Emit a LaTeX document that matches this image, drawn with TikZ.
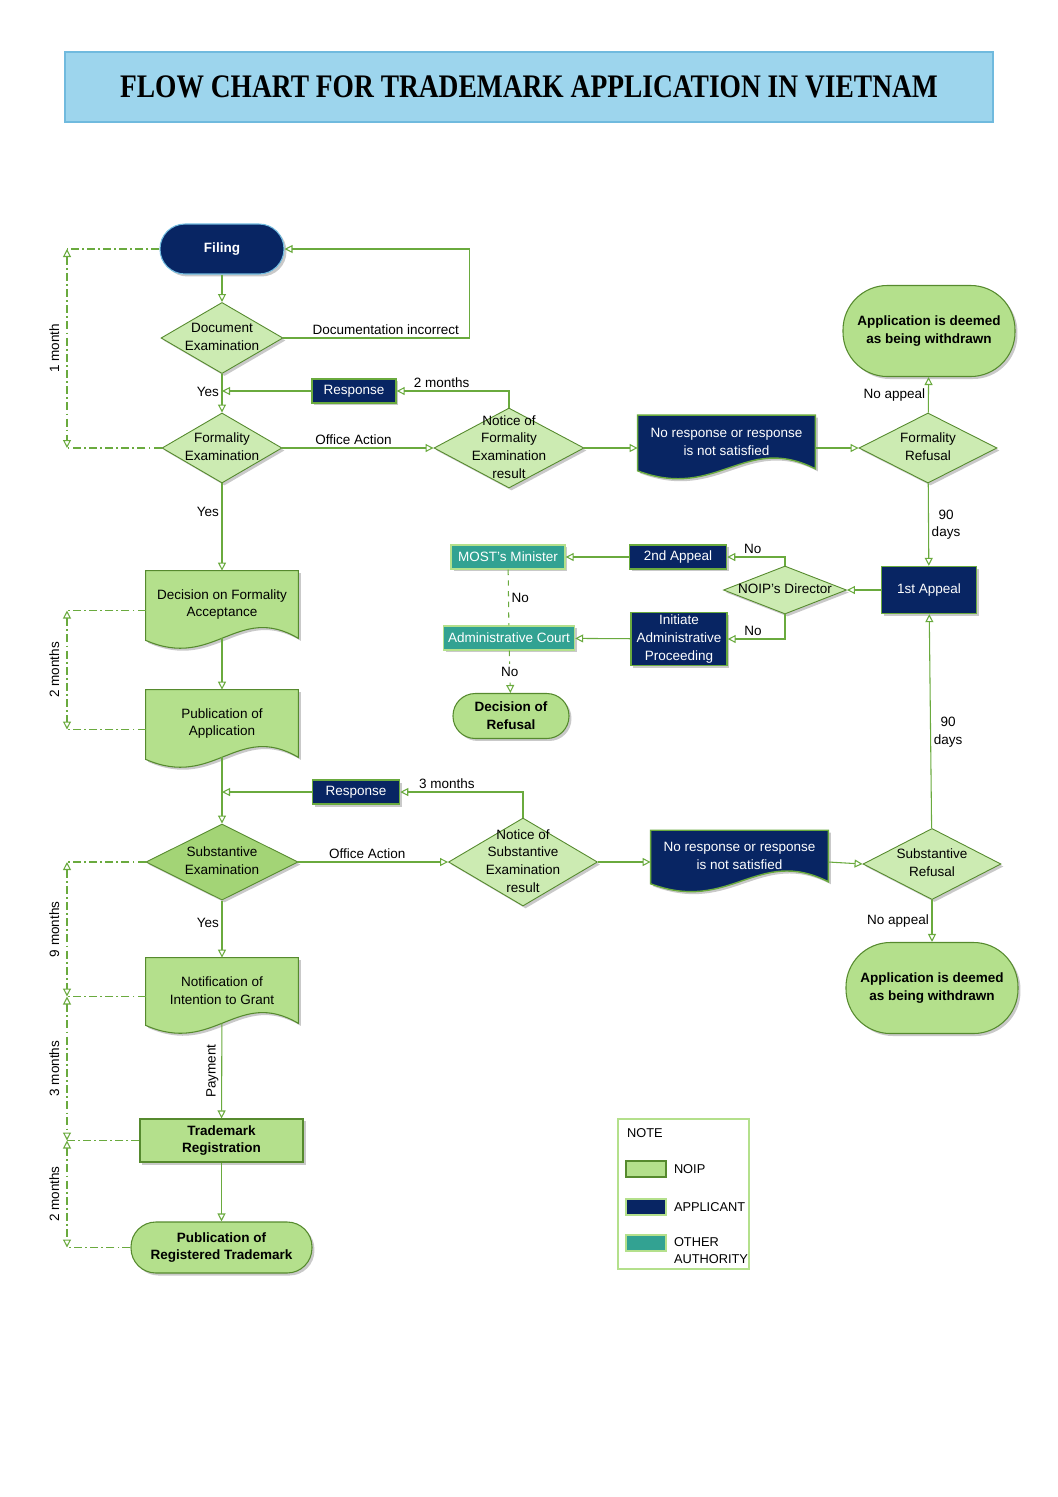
\documentclass[tikz,border=0pt]{standalone}
\usepackage{fontspec}
\setmainfont{Liberation Sans}
\newfontfamily\titlefont{Liberation Serif}
\usepackage{graphicx}
\usetikzlibrary{arrows.meta,positioning,shapes.geometric,shadows,backgrounds,calc}

\definecolor{navyb}{RGB}{8,37,99}
\definecolor{leafg}{RGB}{180,224,140}
\definecolor{leafd}{RGB}{163,212,118}
\definecolor{paleg}{RGB}{204,235,178}
\definecolor{tealb}{RGB}{50,162,146}
\definecolor{lineg}{RGB}{106,170,62}
\definecolor{edgeg}{RGB}{86,138,46}
\definecolor{skyb}{RGB}{157,213,237}
\definecolor{skyl}{RGB}{112,186,222}

% text of a diamond, kept from growing the shape
\newcommand{\dtxt}[1]{\makebox[0pt]{\smash{\raisebox{-0.28em}{\begin{tabular}{@{}c@{}}#1\end{tabular}}}}}
% document shape (wavy bottom) round a node
\newcommand{\docshape}[3]{%
  \path[#3] (#1.north west) -- (#1.north east) -- (#1.south east)
    .. controls +(-0.4*#2,-36) and +(0.45*#2,30) .. ($(#1.south west)+(0,2)$) -- cycle;}

\begin{document}
\begin{tikzpicture}[
  x=0.5625pt, y=-0.5625pt,
  font=\fontsize{7.6}{10}\selectfont,
  >={Triangle[open,length=4.5pt,width=4.5pt]},
  lbl/.style={inner sep=1.5pt},
  vlbl/.style={inner sep=4pt, rotate=90, above},
  link/.style={draw=lineg, line width=0.6pt, ->},
  tline/.style={draw=lineg, line width=0.6pt, dash pattern=on 4.5pt off 1.8pt on 1pt off 1.8pt},
  shd/.style={drop shadow={shadow xshift=1.4pt, shadow yshift=-1.4pt, opacity=0.3, fill=black!70}},
  dia/.style={diamond, draw=edgeg, fill=paleg, line width=0.5pt, inner sep=0pt, shd},
  appbox/.style={rectangle, draw=lineg, fill=navyb, text=white, line width=0.8pt, inner sep=1pt, align=center, shd},
  othbox/.style={rectangle, draw=leafg, fill=tealb, text=white, line width=0.8pt, inner sep=1pt, align=center, shd},
  noipbox/.style={rectangle, draw=edgeg, fill=leafg, line width=0.6pt, align=center, font=\fontsize{7.6}{10}\selectfont\bfseries, shd},
  term/.style={rectangle, rounded corners=#1, draw=edgeg, fill=leafg, line width=0.6pt, align=center,
    font=\fontsize{7.6}{10}\selectfont\bfseries, shd},
  term/.default=14pt,
  docnode/.style={rectangle, inner sep=0pt, align=center},
  docfill/.style={draw=edgeg, fill=leafg, line width=0.6pt, shd},
  docnavy/.style={draw=lineg, fill=navyb, line width=0.8pt, shd},
  swatch/.style={rectangle, minimum width=22.5pt, minimum height=9pt, inner sep=0pt, line width=0.6pt},
  keytxt/.style={inner sep=1pt, font=\fontsize{7.2}{9.6}\selectfont}
]
\useasboundingbox (0,0) rectangle (1058,1497);

% Title
\node[draw=skyl, fill=skyb, line width=0.8pt, minimum width=522pt, minimum height=39.4pt,
  font=\titlefont\bfseries\fontsize{18.5}{20}\selectfont] (title) at (529,87)
  {\scalebox{0.835}[1]{FLOW CHART FOR TRADEMARK APPLICATION IN VIETNAM}};

% Formality stage
\node[term, draw=skyl, fill=navyb, text=white, minimum width=69.75pt, minimum height=28.1pt] (filing) at (222,249) {Filing};
\node[dia, minimum width=68.6pt, minimum height=40pt] (docex) at (222,338) {\dtxt{Document\\Examination}};
\node[dia, minimum width=67.5pt, minimum height=39.4pt] (formex) at (222,448) {\dtxt{Formality\\Examination}};
\node[appbox, minimum width=47.25pt, minimum height=13.5pt] (resp1) at (354,391) {Response};
\node[dia, minimum width=84.4pt, minimum height=45pt] (noticef) at (509,448) {\dtxt{Notice of\\Formality\\Examination\\result}};
\node[docnode, text=white, minimum width=99.6pt, minimum height=29.8pt] (nores1) at (726.5,442) {No response or response\\is not satisfied};
\node[dia, minimum width=77.6pt, minimum height=39.4pt] (frefusal) at (928,448) {\dtxt{Formality\\Refusal}};
\node[term=25pt, minimum width=96.75pt, minimum height=51.2pt] (withdr1) at (929,331) {Application is deemed\\as being withdrawn};

% Appeal
\node[appbox, minimum width=53.4pt, minimum height=26.4pt] (appeal1) at (929,590) {1st Appeal};
\node[dia, minimum width=69.2pt, minimum height=27pt] (director) at (785,590) {\dtxt{NOIP's Director}};
\node[appbox, minimum width=54.6pt, minimum height=13.5pt] (appeal2) at (678,557) {2nd Appeal};
\node[othbox, minimum width=64.1pt, minimum height=13.5pt] (minister) at (508,557) {MOST's Minister};
\node[appbox, minimum width=54pt, minimum height=29.8pt] (initiate) at (679,639) {Initiate\\Administrative\\Proceeding};
\node[othbox, minimum width=73.7pt, minimum height=13.5pt] (court) at (509,638) {Administrative Court};
\node[term=12.5pt, minimum width=65.25pt, minimum height=25.3pt] (refusal) at (511,716) {Decision of\\Refusal};

% Publication and substantive stage
\node[docnode, minimum width=85.5pt, minimum height=37.7pt] (decision) at (222,604.5) {Decision on Formality\\Acceptance};
\node[docnode, minimum width=85.5pt, minimum height=37.7pt] (pubapp) at (222,723.5) {Publication of\\Application};
\node[appbox, minimum width=49pt, minimum height=13.5pt] (resp2) at (356,792) {Response};
\node[dia, fill=leafd, minimum width=85.5pt, minimum height=42.8pt] (subex) at (222,862) {\dtxt{Substantive\\Examination}};
\node[dia, minimum width=83.8pt, minimum height=49.5pt] (noticesub) at (523,862) {\dtxt{Notice of\\Substantive\\Examination\\result}};
\node[docnode, text=white, minimum width=99.6pt, minimum height=28.6pt] (nores2) at (739.5,856) {No response or response\\is not satisfied};
\node[dia, minimum width=77.6pt, minimum height=40pt] (subrefusal) at (932,864) {\dtxt{Substantive\\Refusal}};
\node[term=25pt, minimum width=96.75pt, minimum height=51.2pt] (withdr2) at (932,988) {Application is deemed\\as being withdrawn};

% Grant
\node[docnode, minimum width=85.5pt, minimum height=36.6pt] (notif) at (222,990.5) {Notification of\\Intention to Grant};
\node[noipbox, minimum width=91.7pt, minimum height=24.2pt] (tmreg) at (221.5,1140.5) {Trademark\\Registration};
\node[term, minimum width=101.8pt, minimum height=28.7pt] (pubtm) at (221.5,1247.5) {Publication of\\Registered Trademark};

% document shapes
\begin{scope}[on background layer]
\docshape{nores1}{177}{docnavy}
\docshape{nores2}{177}{docnavy}
\docshape{decision}{152}{docfill}
\docshape{pubapp}{152}{docfill}
\docshape{notif}{152}{docfill}
\end{scope}

% Connectors
\draw[link] (filing) -- (docex);
\draw[link] (docex.east) -- node[lbl, above, pos=0.55] {Documentation incorrect} ++(186,0) |- (filing.east);
\draw[link] (docex) -- node[lbl, left, pos=0.46] {Yes} (formex);
\draw[link] (noticef.north) |- node[lbl, above, pos=0.8] {2 months} (resp1.east);
\draw[link] (resp1.west) -- (resp1.west -| docex.south);
\draw[link] (formex) -- node[lbl, above, pos=0.47] {Office Action} (noticef);
\draw[link] (noticef.east) -- (noticef.east -| nores1.west);
\draw[link] (nores1.east |- frefusal) -- (frefusal.west);
\draw[link] (frefusal) -- node[lbl, left] {No appeal} (withdr1);
\draw[link] (frefusal) -- node[lbl, right, align=center] {90\\days} (appeal1);
\draw[link] (appeal1) -- (director);
\draw[link] (director.north) |- node[lbl, above, pos=0.78] {No} (appeal2.east);
\draw[link] (appeal2) -- (minister);
\draw[link] (director.south) |- node[lbl, above, pos=0.78] {No} (initiate.east);
\draw[link] (initiate) -- (court);
\draw[link, -, dashed] (minister) -- node[lbl, right] {No} (court);
\draw[link, dashed] (court) -- node[lbl, fill=white] {No} (refusal);
\draw[link] (subrefusal) -- node[lbl, right, align=center, pos=0.45] {90\\days} (appeal1);

\draw[link] (formex) -- node[lbl, left, pos=0.33] {Yes} (decision);
\draw[link] (decision) -- (pubapp);
\draw[link] (pubapp) -- (subex);
\draw[link] (noticesub.north) |- node[lbl, above, pos=0.81] {3 months} (resp2.east);
\draw[link] (resp2.west) -- (resp2.west -| subex.north);
\draw[link] (subex) -- node[lbl, above, pos=0.46] {Office Action} (noticesub);
\draw[link] (noticesub.east) -- (noticesub.east -| nores2.west);
\draw[link] (nores2.east |- noticesub.east) -- (subrefusal.west);
\draw[link] (subrefusal) -- node[lbl, left] {No appeal} (withdr2);
\draw[link] (subex) -- node[lbl, left, pos=0.39] {Yes} (notif);
\draw[link] (notif) -- node[lbl, rotate=90, above] {Payment} (tmreg);
\draw[link] (tmreg) -- (pubtm);

% Time line on the left
\coordinate (tlx) at (67,0);
\coordinate (t1) at ($(decision.west)+(0,6)$);
\coordinate (t2) at ($(pubapp.west)+(0,6)$);
\coordinate (t3) at ($(notif.west)+(0,6)$);
\draw[tline] (filing.west) -- (filing.west -| tlx);
\draw[tline] (formex.west) -- (formex.west -| tlx);
\draw[tline, <->] (filing.west -| tlx) -- node[vlbl] {1 month} (formex.west -| tlx);
\draw[tline] (t1) -- (t1 -| tlx);
\draw[tline] (t2) -- (t2 -| tlx);
\draw[tline, <->] (t1 -| tlx) -- node[vlbl] {2 months} (t2 -| tlx);
\draw[tline] (subex.west) -- (subex.west -| tlx);
\draw[tline] (t3) -- (t3 -| tlx);
\draw[tline, <->] (subex.west -| tlx) -- node[vlbl] {9 months} (t3 -| tlx);
\draw[tline] (tmreg.west) -- (tmreg.west -| tlx);
\draw[tline, <->] (t3 -| tlx) -- node[vlbl] {3 months} (tmreg.west -| tlx);
\draw[tline] (pubtm.west) -- (pubtm.west -| tlx);
\draw[tline, <->] (tmreg.west -| tlx) -- node[vlbl] {2 months} (pubtm.west -| tlx);

% Legend
\node[draw=leafg, line width=0.8pt, minimum width=73.7pt, minimum height=84.4pt] (note) at (683.5,1194) {};
\node[keytxt, anchor=west] (notet) at (625,1133) {NOTE};
\node[swatch, draw=edgeg, fill=leafg] (sw1) at (646,1169) {};
\node[swatch, draw=leafg, fill=navyb] (sw2) at (646,1207) {};
\node[swatch, draw=leafg, fill=tealb] (sw3) at (646,1243) {};
\node[keytxt, right=3pt of sw1] (swt1) {NOIP};
\node[keytxt, right=3pt of sw2] (swt2) {APPLICANT};
\node[keytxt, right=3pt of sw3, yshift=-4.2pt, align=left] (swt3) {OTHER\\AUTHORITY};
\end{tikzpicture}
\end{document}
